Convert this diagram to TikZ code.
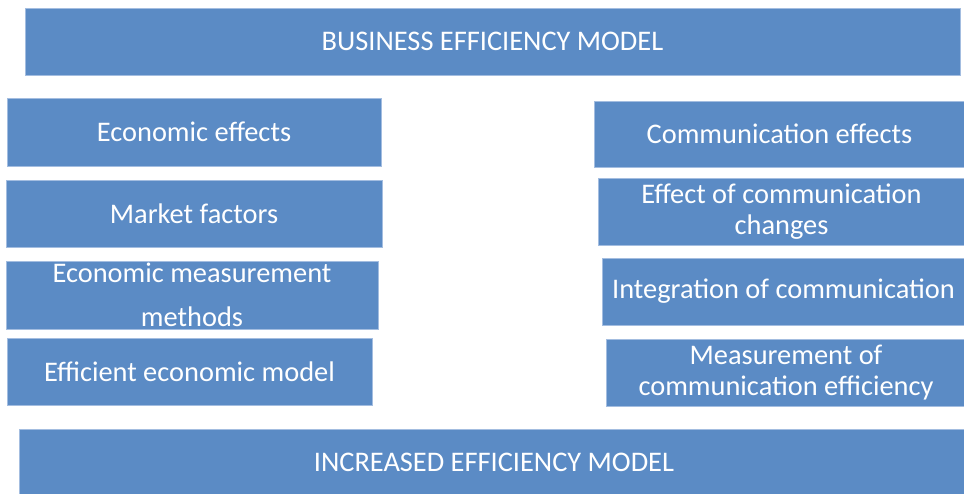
\documentclass[tikz,border=0pt]{standalone}
\usepackage{fontspec}
\setmainfont{Carlito}
\definecolor{boxfill}{HTML}{5B8BC5}
\definecolor{boxline}{HTML}{A3BDE0}
\begin{document}
\begin{tikzpicture}[x=1pt,y=-1pt,
  box/.style={rectangle, fill=boxfill, draw=boxline, line width=0.8pt, inner sep=0pt, outer sep=0pt,
    text=white, align=center, font=\fontsize{28.4}{30.5}\selectfont},
]
\useasboundingbox[fill=white] (0,0) rectangle (964,494);
\node[box, minimum width=935, minimum height=67] (top) at (492.5,41.5) {BUSINESS EFFICIENCY MODEL};
\node[box, minimum width=374, minimum height=68] (ee) at (194,132) {Economic effects};
\node[box, minimum width=376, minimum height=67] (mf) at (194,213.5) {Market factors};
\node[box, minimum width=372, minimum height=68] (emm) at (192,295) {Economic measurement\\[13pt]methods};
\node[box, minimum width=365, minimum height=67] (eem) at (189.5,371.5) {Efficient economic model};
\node[box, minimum width=371, minimum height=66] (ce) at (779.5,134) {Communication effects};
\node[box, minimum width=367, minimum height=67] (ecc) at (781.5,211.5) {Effect of communication\\changes};
\node[box, minimum width=363, minimum height=67] (ic) at (783.5,291.5) {Integration of communication};
\node[box, minimum width=360, minimum height=67] (mce) at (786,372.5) {Measurement of\\communication efficiency};
\node[box, minimum width=950, minimum height=66] (inc) at (494,462) {INCREASED EFFICIENCY MODEL};
\end{tikzpicture}
\end{document}
